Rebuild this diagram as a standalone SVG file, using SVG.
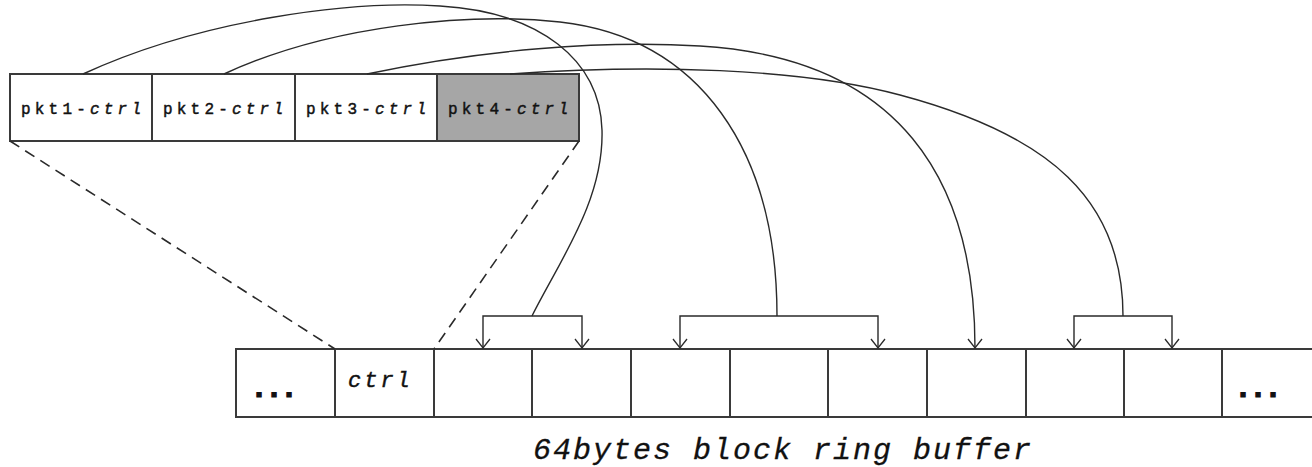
<svg xmlns="http://www.w3.org/2000/svg" width="1312" height="467" viewBox="0 0 1312 467">
<style>
.box{fill:#ffffff;stroke:#3a3a3a;stroke-width:2}
.gray{fill:#a6a6a6}
.lbl{font-family:"Liberation Mono","Courier New",monospace;font-size:16px;letter-spacing:4.2px;fill:#111;stroke:#111;stroke-width:0.45}
.it{font-style:italic}
.conn{fill:none;stroke:#2a2a2a;stroke-width:1.4}
.dash{fill:none;stroke:#2a2a2a;stroke-width:1.6;stroke-dasharray:11 7}
.dots{font-family:"Liberation Mono","Courier New",monospace;font-size:30px;font-weight:bold;fill:#111;stroke:#111;stroke-width:1.2}
</style>
<defs>
<marker id="arr" viewBox="-12 -8 14 16" markerWidth="14" markerHeight="16" refX="0" refY="0" orient="auto" markerUnits="userSpaceOnUse" overflow="visible">
<path d="M-9,-7 L0,0 L-9,7" fill="none" stroke="#2a2a2a" stroke-width="1.3"/>
</marker>
</defs>

<g id="ctrl-array">
<g id="pkt1"><rect class="box" x="10" y="74" width="142" height="67"/><text class="lbl" x="21" y="114">pkt1-<tspan class="it">ctrl</tspan></text></g>
<g id="pkt2"><rect class="box" x="152" y="74" width="143" height="67"/><text class="lbl" x="163" y="114">pkt2-<tspan class="it">ctrl</tspan></text></g>
<g id="pkt3"><rect class="box" x="295" y="74" width="142" height="67"/><text class="lbl" x="306" y="114">pkt3-<tspan class="it">ctrl</tspan></text></g>
<g id="pkt4"><rect class="box gray" x="437" y="74" width="142" height="67"/><text class="lbl" x="448" y="114">pkt4-<tspan class="it">ctrl</tspan></text></g>
</g>

<g id="ring-buffer">
<g id="cell0"><rect class="box" x="236" y="349" width="99" height="68"/><text class="dots" x="250" y="397" letter-spacing="-3">...</text></g>
<g id="cell1"><rect class="box" x="335" y="349" width="99" height="68"/><text class="lbl it" x="348" y="387" style="font-size:22px;letter-spacing:3px">ctrl</text></g>
<g id="cell2"><rect class="box" x="434" y="349" width="98" height="68"/></g>
<g id="cell3"><rect class="box" x="532" y="349" width="99" height="68"/></g>
<g id="cell4"><rect class="box" x="631" y="349" width="99" height="68"/></g>
<g id="cell5"><rect class="box" x="730" y="349" width="98" height="68"/></g>
<g id="cell6"><rect class="box" x="828" y="349" width="99" height="68"/></g>
<g id="cell7"><rect class="box" x="927" y="349" width="99" height="68"/></g>
<g id="cell8"><rect class="box" x="1026" y="349" width="98" height="68"/></g>
<g id="cell9"><rect class="box" x="1124" y="349" width="98" height="68"/></g>
<g id="cell10"><rect class="box" x="1222" y="349" width="100" height="68"/><text class="dots" x="1234" y="397" letter-spacing="-3">...</text></g>
<text id="caption" class="lbl it" x="533" y="459" style="font-size:30px;letter-spacing:2px;stroke-width:0.3">64bytes block ring buffer</text>
</g>

<g id="connectors">
<path class="dash" d="M10,141 L335,349"/>
<path class="dash" d="M579,141 L434,349"/>
<path class="conn" d="M83,74 C200,20 350,0 440,6 C540,12 600,60 602,130 C604,200 560,260 532,316"/>
<path class="conn" d="M224,74 C330,25 470,12 560,22 C700,38 777,150 777,316"/>
<path class="conn" d="M367,74 C480,50 600,40 700,46 C900,58 975,180 975,348" marker-end="url(#arr)"/>
<path class="conn" d="M510,74 C650,64 800,68 900,95 C1050,135 1123,200 1123,316"/>
<path class="conn" d="M532,316 H483 V348" marker-end="url(#arr)"/>
<path class="conn" d="M532,316 H582 V348" marker-end="url(#arr)"/>
<path class="conn" d="M777,316 H680 V348" marker-end="url(#arr)"/>
<path class="conn" d="M777,316 H878 V348" marker-end="url(#arr)"/>
<path class="conn" d="M1123,316 H1074 V348" marker-end="url(#arr)"/>
<path class="conn" d="M1123,316 H1172 V348" marker-end="url(#arr)"/>
</g>
</svg>
